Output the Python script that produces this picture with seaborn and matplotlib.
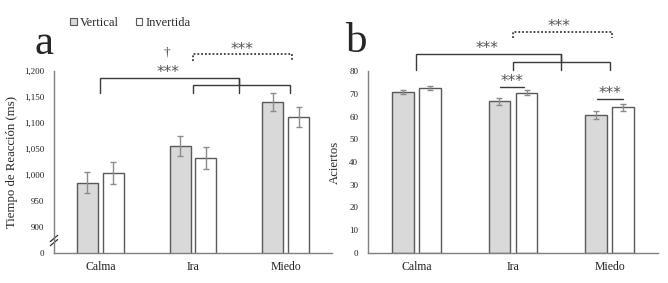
import numpy as np
import pandas as pd
import seaborn as sns
import matplotlib.pyplot as plt
from matplotlib.patches import Patch

# Data
emociones = ["Calma", "Ira", "Miedo"]
orientaciones = ["Vertical", "Invertida"]

tr_vertical = [985, 1056, 1141]
tr_invertida = [1004, 1033, 1112]
tr_err_vertical = [20, 19, 17]
tr_err_invertida = [21, 21, 19]

ac_vertical = [70.7, 66.6, 60.8]
ac_invertida = [72.5, 70.4, 64.1]
ac_err_vertical = [1.0, 1.4, 1.8]
ac_err_invertida = [0.8, 1.1, 1.6]

# broken axis: "0" drawn at 850
tr_ticks = [850, 900, 950, 1000, 1050, 1100, 1150, 1200]
tr_ticklabels = ["0", "900", "950", "1,000", "1,050", "1,100", "1,150", "1,200"]
ac_ticks = [0, 10, 20, 30, 40, 50, 60, 70, 80]

sns.set_style("white")
plt.rcParams['font.family'] = ['Liberation Serif', 'DejaVu Serif']

GRIS = "#d9d9d9"
BORDE = "#595959"
ERR = "#8c8c8c"
LINEA = "#3a3a3a"
DOTS = (0, (1, 1.1))

def make_df(v, i):
    return pd.DataFrame({
        "Emocion": emociones * 2,
        "Orientacion": ["Vertical"] * 3 + ["Invertida"] * 3,
        "Valor": list(v) + list(i),
    })

fig = plt.figure(figsize=(6.68, 2.83), dpi=100)
ax_a = fig.add_axes([54/668, 1-253/283, (332-54)/668, (253-71)/283])
ax_b = fig.add_axes([368/668, 1-253/283, (658-368)/668, (253-71)/283])


def draw_bars(ax, v, i, ev, ei):
    df = make_df(v, i)
    sns.barplot(data=df, x="Emocion", y="Valor", hue="Orientacion",
                hue_order=orientaciones, order=emociones,
                palette=[GRIS, "white"], width=0.56, gap=0.19,
                edgecolor=BORDE, linewidth=1.0, errorbar=None,
                legend=False, ax=ax)
    for cont, errs in zip(ax.containers, [ev, ei]):
        xs = [b.get_x() + b.get_width() / 2 for b in cont]
        ys = [b.get_height() for b in cont]
        ax.errorbar(xs, ys, yerr=errs, fmt="none", ecolor=ERR,
                    elinewidth=1.0, capsize=2.5, capthick=1.0, zorder=5)
    ax.set_xlim(-0.5, 2.5)
    ax.set_xlabel("")
    for s in ["top", "right"]:
        ax.spines[s].set_visible(False)
    for s in ["left", "bottom"]:
        ax.spines[s].set_color("#7f7f7f")
        ax.spines[s].set_linewidth(1.0)
    ax.tick_params(axis="both", length=0, colors="#222222")
    ax.tick_params(axis="x", labelsize=8.5, pad=6)
    ax.tick_params(axis="y", labelsize=6.5, pad=7)


def bracket(ax, x0, x1, y, ybot, ls="-", lw=1.0):
    ax.plot([x0, x0, x1, x1], [ybot, y, y, ybot], color=LINEA, lw=lw,
            ls=ls, clip_on=False, solid_joinstyle="miter")


def stars(ax, x, y, txt="***"):
    ax.text(x, y, txt, ha="center", va="center", fontsize=11,
            family="DejaVu Sans", color="#555555", clip_on=False)


# Panel a
draw_bars(ax_a, tr_vertical, tr_invertida, tr_err_vertical, tr_err_invertida)
ax_a.set_ylim(850, 1200)
ax_a.set_yticks(tr_ticks)
ax_a.set_yticklabels(tr_ticklabels)
ax_a.set_ylabel("Tiempo de Reacción (ms)", fontsize=9.2, labelpad=4)
# axis break marks
for dy in [-5, 3]:
    ax_a.plot([-0.54, -0.46], [875 + dy - 6, 875 + dy + 6], color="#333333",
              lw=0.9, clip_on=False)

bracket(ax_a, 0, 1.5, 1187, 1158)
ax_a.plot([1.5, 1.5], [1187, 1173], color=LINEA, lw=1.0, clip_on=False)
bracket(ax_a, 1.0, 2.05, 1173, 1158)
stars(ax_a, 0.73, 1197)
ax_a.text(0.72, 1236, "†", ha="center", va="center", fontsize=9.5,
          color="#404040", clip_on=False)
bracket(ax_a, 1.0, 2.07, 1233, 1219, ls=DOTS, lw=1.3)
stars(ax_a, 1.53, 1242)

# Panel b
draw_bars(ax_b, ac_vertical, ac_invertida, ac_err_vertical, ac_err_invertida)
ax_b.set_ylim(0, 80)
ax_b.set_yticks(ac_ticks)
ax_b.set_ylabel("Aciertos", fontsize=9.2, labelpad=6)

bracket(ax_b, 0, 1.5, 87.4, 80.4)
ax_b.plot([1.5, 1.5], [87.4, 84.1], color=LINEA, lw=1.0, clip_on=False)
bracket(ax_b, 1.0, 2.0, 84.1, 80.4)
stars(ax_b, 0.73, 89.7)
bracket(ax_b, 1.0, 2.02, 97.0, 94.4, ls=DOTS, lw=1.3)
stars(ax_b, 1.48, 99.7)
ax_b.plot([0.87, 1.11], [73.1, 73.1], color=LINEA, lw=1.0, clip_on=False)
stars(ax_b, 0.99, 75.6)
ax_b.plot([1.87, 2.14], [67.5, 67.5], color=LINEA, lw=1.0, clip_on=False)
stars(ax_b, 2.0, 70.0)

# panel letters
fig.text(34/668, 1-44/283, "a", fontsize=31, ha="left", va="center")
fig.text(346/668, 1-42/283, "b", fontsize=31, ha="left", va="center")

# legend
handles = [Patch(facecolor=GRIS, edgecolor=BORDE, lw=0.8, label="Vertical"),
           Patch(facecolor="white", edgecolor=BORDE, lw=0.8, label="Invertida")]
fig.legend(handles=handles, loc="center left", ncol=2, frameon=False,
           bbox_to_anchor=(64/668, 1-23/283), fontsize=9,
           handlelength=0.55, handleheight=0.55, handletextpad=0.25,
           columnspacing=1.3, borderpad=0)

fig.savefig("out.png", dpi=100)
